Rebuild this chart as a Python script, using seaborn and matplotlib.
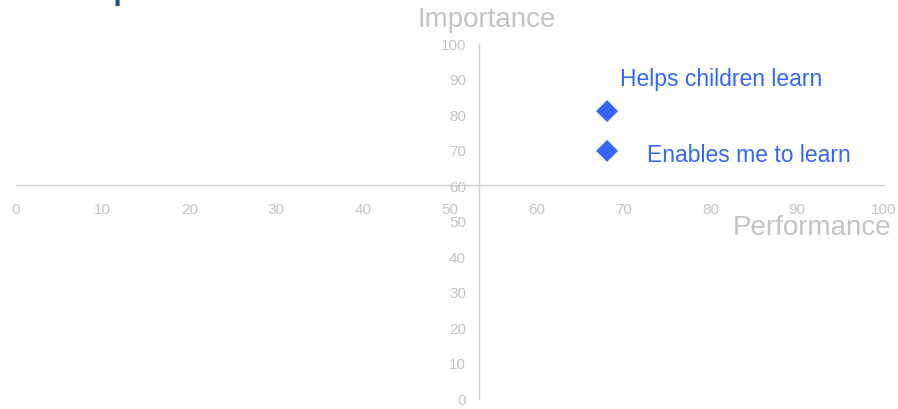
import matplotlib
matplotlib.use("Agg")
import matplotlib.pyplot as plt
import seaborn as sns
import pandas as pd

# %%
labels = ["Helps children learn", "Enables me to learn"]
performance = [68.1, 68.1]
importance = [81.1, 69.9]
label_pos = [(69.6, 90.1), (72.7, 68.5)]

ticks = list(range(0, 101, 10))

df = pd.DataFrame(dict(label=labels, performance=performance, importance=importance))

# %%
sns.set_style("white")
plt.rcParams["font.family"] = ["Liberation Sans", "DejaVu Sans"]

grey = "#c4c4c4"
blue = "#3366ff"

fig = plt.figure(figsize=(8.98, 4.09), dpi=100)
ax = fig.add_axes([0.0175, 0.0244, 0.967, 0.868])

sns.scatterplot(data=df, x="performance", y="importance", marker="D", s=125,
                color=blue, edgecolor="none", ax=ax, legend=False, zorder=3)

for lab, (lx, ly) in zip(labels, label_pos):
    ax.text(lx, ly, lab, color=blue, fontsize=16.5, va="center", ha="left")

ax.set_xlim(0, 100)
ax.set_ylim(0, 100)
ax.set_xticks(ticks)
ax.set_yticks(ticks)

# spines cross inside the plot
ax.spines["left"].set_position(("data", 53.3))
ax.spines["bottom"].set_position(("data", 60.3))
ax.spines["top"].set_visible(False)
ax.spines["right"].set_visible(False)
for s in ["left", "bottom"]:
    ax.spines[s].set_color("#d0d0d0")
    ax.spines[s].set_linewidth(1.0)

ax.tick_params(axis="x", direction="out", length=4, width=1, color="#d0d0d0",
               labelcolor=grey, labelsize=11, pad=9)
ax.tick_params(axis="y", direction="out", length=4, width=1, color="#d0d0d0",
               labelcolor=grey, labelsize=11, pad=5)

ax.set_xlabel("")
ax.set_ylabel("")
fig.text(487 / 898, 1 - 27 / 409, "Importance", color=grey, fontsize=20,
         ha="center", va="baseline")
fig.text(891 / 898, 1 - 235 / 409, "Performance", color=grey, fontsize=20,
         ha="right", va="baseline")

# title sits above the canvas, only the descender shows
fig.text(71 / 898, 1.002, "Map", color="#1f4e9a", fontsize=22,
         fontweight="bold", ha="left", va="baseline")

fig.savefig("out.png", dpi=100)
